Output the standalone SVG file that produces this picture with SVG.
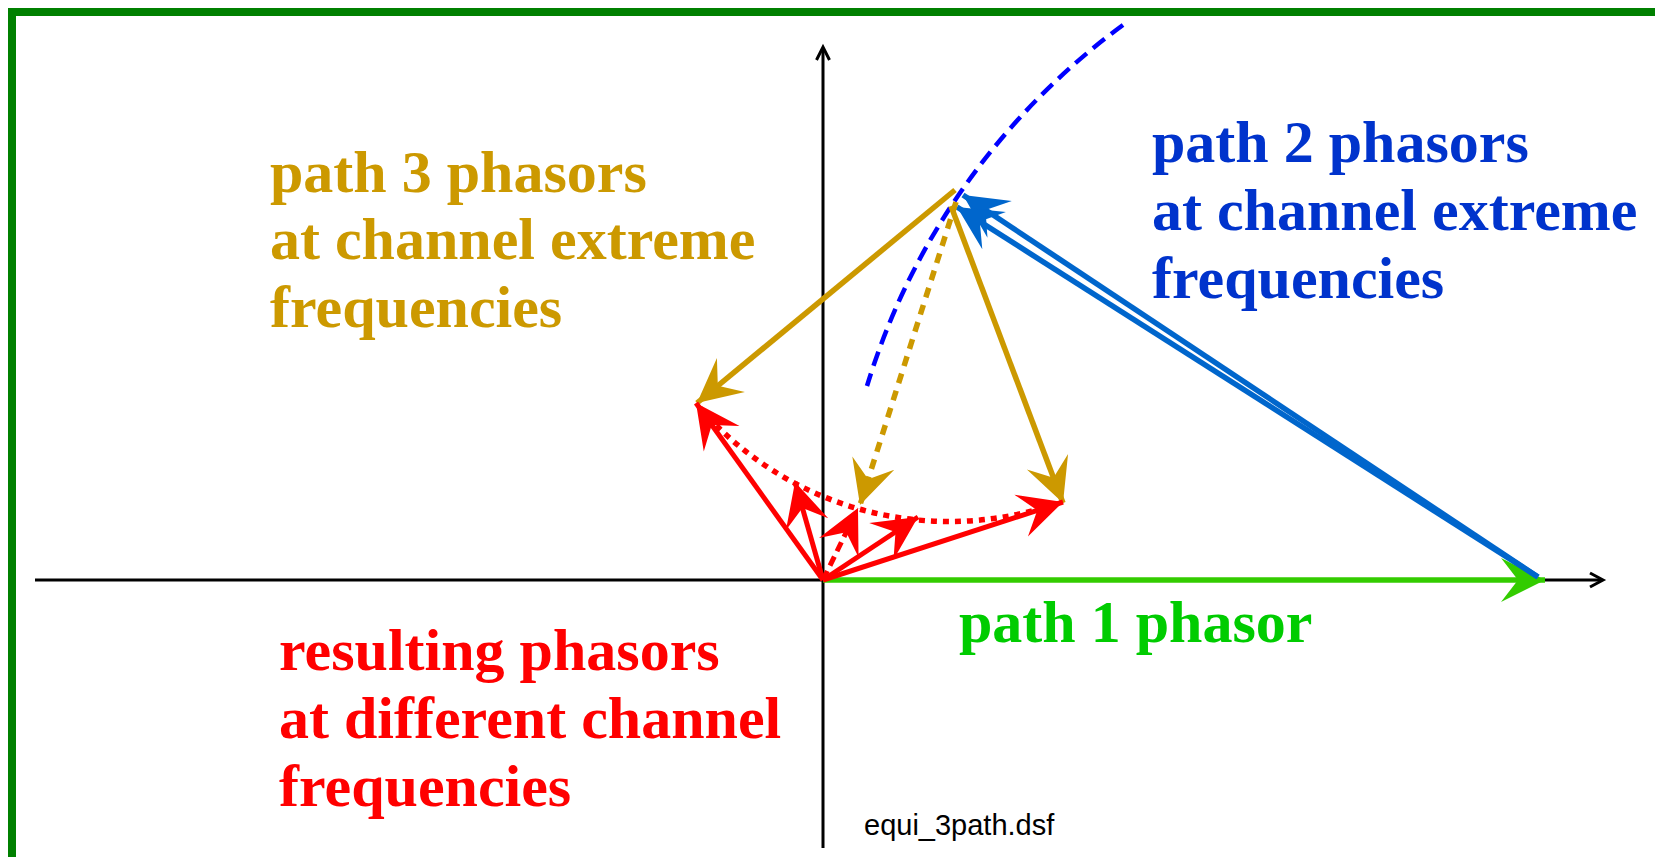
<svg xmlns="http://www.w3.org/2000/svg" width="1655" height="857" viewBox="0 0 1655 857">
<style>
.lbl{font-family:"Liberation Serif","Times New Roman",serif;font-weight:bold;font-size:60px}
.axis{stroke:#000;stroke-width:3;fill:none}
.red{stroke:#ff0000;stroke-width:5;fill:none}
.gold{stroke:#cc9900;stroke-width:5.5;fill:none}
.blue{stroke:#0066cc;stroke-width:5.5;fill:none}
</style>
<defs>
<marker id="hr" viewBox="-48 -26 52 52" refX="0" refY="0" markerWidth="52" markerHeight="52" markerUnits="userSpaceOnUse" orient="auto"><path d="M0,0 L-44,-22 L-27,0 L-44,22 Z" fill="#ff0000"/></marker>
<marker id="hg" viewBox="-48 -26 52 52" refX="0" refY="0" markerWidth="52" markerHeight="52" markerUnits="userSpaceOnUse" orient="auto"><path d="M0,0 L-44,-22 L-27,0 L-44,22 Z" fill="#cc9900"/></marker>
<marker id="hb" viewBox="-48 -26 52 52" refX="0" refY="0" markerWidth="52" markerHeight="52" markerUnits="userSpaceOnUse" orient="auto"><path d="M0,0 L-44,-22 L-27,0 L-44,22 Z" fill="#0066cc"/></marker>
<marker id="hgr" viewBox="-48 -26 52 52" refX="0" refY="0" markerWidth="52" markerHeight="52" markerUnits="userSpaceOnUse" orient="auto"><path d="M0,0 L-44,-22 L-27,0 L-44,22 Z" fill="#33cc00"/></marker>
</defs>
<rect x="0" y="0" width="1655" height="857" fill="#fff"/>
<rect id="frame" x="12" y="12" width="1700" height="900" fill="none" stroke="#008000" stroke-width="8"/>
<g id="axes">
<path class="axis" d="M35 580 H1602"/>
<path class="axis" d="M1590 573 L1603 580 L1590 587"/>
<path class="axis" d="M823 848 V48"/>
<path class="axis" d="M816.5 60 L823 47 L829.5 60"/>
</g>
<g id="connectors">
<path id="arc2" d="M1123 25 A700 700 0 0 0 867 386" fill="none" stroke="#0000ff" stroke-width="4.5" stroke-dasharray="15 8"/>
<path id="p1" d="M823 580 H1545" stroke="#33cc00" stroke-width="5.5" fill="none" marker-end="url(#hgr)"/>
<path class="blue" d="M1538 577 L963 195" marker-end="url(#hb)"/>
<path class="blue" d="M1538 577 L957 207" marker-end="url(#hb)"/>
<path class="gold" d="M955 190 L697 403" marker-end="url(#hg)"/>
<path class="gold" d="M956 202 L860 505" stroke-dasharray="10 8" marker-end="url(#hg)"/>
<path class="gold" d="M951 206 L1063 503" marker-end="url(#hg)"/>
<path d="M700 408 A330 330 0 0 0 1058 503" fill="none" stroke="#ff0000" stroke-width="5.5" stroke-dasharray="6 6"/>
<path class="red" d="M823 580 L696 403" marker-end="url(#hr)"/>
<path class="red" d="M823 580 L795 482" marker-end="url(#hr)"/>
<path class="red" d="M823 580 L858 508" stroke-dasharray="10 6" marker-end="url(#hr)"/>
<path class="red" d="M823 580 L918 517" marker-end="url(#hr)"/>
<path class="red" d="M823 580 L1063 502" marker-end="url(#hr)"/>
</g>
<g id="label-path3">
<text class="lbl" fill="#cc9900" x="270" y="192">path 3 phasors</text>
<text class="lbl" fill="#cc9900" x="270" y="259">at channel extreme</text>
<text class="lbl" fill="#cc9900" x="270" y="327">frequencies</text>
</g>
<g id="label-path2">
<text class="lbl" fill="#0033cc" x="1152" y="162">path 2 phasors</text>
<text class="lbl" fill="#0033cc" x="1152" y="230">at channel extreme</text>
<text class="lbl" fill="#0033cc" x="1152" y="298">frequencies</text>
</g>
<g id="label-path1">
<text class="lbl" fill="#00cc00" x="959" y="642">path 1 phasor</text>
</g>
<g id="label-result">
<text class="lbl" fill="#ff0000" x="279" y="670">resulting phasors</text>
<text class="lbl" fill="#ff0000" x="279" y="738">at different channel</text>
<text class="lbl" fill="#ff0000" x="279" y="806">frequencies</text>
</g>
<g id="filename">
<text x="864" y="835" font-family="'Liberation Sans',Arial,sans-serif" font-size="29" fill="#000">equi_3path.dsf</text>
</g>
</svg>
